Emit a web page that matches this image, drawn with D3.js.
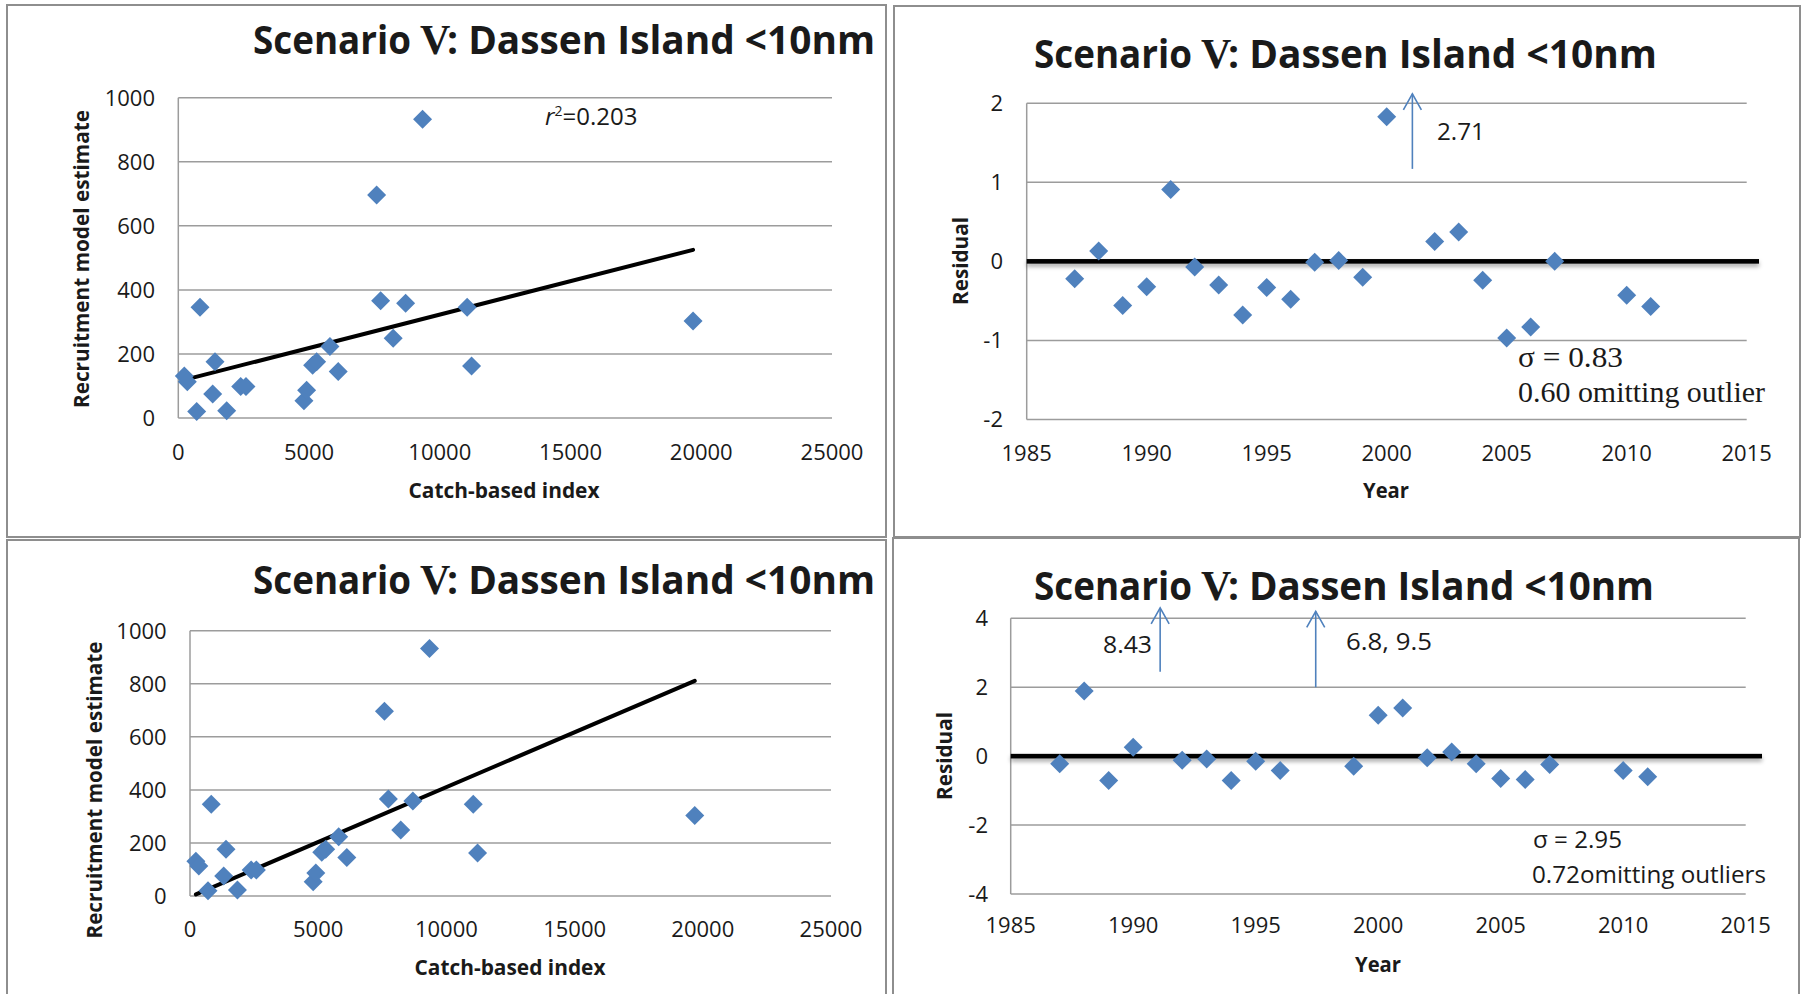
<!DOCTYPE html>
<html>
<head>
<meta charset="utf-8">
<script src="https://cdn.jsdelivr.net/npm/d3@7"></script>
<style>
  body { margin: 0; background: #fff; }
  svg { display: block; }
  text { font-family: "Open Sans", sans-serif; fill: #1a1a1a; }
</style>
</head>
<body>
<div id="chart"></div>
<script>
// Values (scatter and residuals)
const catchIndex = [230, 344, 703, 830, 1403, 1315, 1850, 2385, 2588, 4805, 4908, 5138, 5291, 5799, 6116, 7737, 8219, 8693, 11047, 11216, 7584, 9342, 19686];
const recruitEst = [131, 113, 20, 346, 176, 75, 23, 98, 98, 54, 87, 165, 176, 223, 145, 366, 249, 358, 346, 162, 696, 933, 303];

// fitted lines (end points)
const trendTop = [[230, 119], [19686, 525]];
const trendBottom = [[230, 6], [19686, 811]];

const residYearsA = [1987, 1988, 1989, 1990, 1991, 1992, 1993, 1994, 1995, 1996, 1997, 1998, 1999, 2000, 2002, 2003, 2004, 2005, 2006, 2007, 2010, 2011];
const residA = [-0.22, 0.13, -0.56, -0.32, 0.91, -0.07, -0.30, -0.68, -0.33, -0.48, -0.01, 0.01, -0.20, 1.83, 0.25, 0.37, -0.24, -0.97, -0.83, 0.0, -0.43, -0.57];

const residYearsB = [1987, 1988, 1989, 1990, 1992, 1993, 1994, 1995, 1996, 1999, 2000, 2001, 2002, 2003, 2004, 2005, 2006, 2007, 2010, 2011];
const residB = [-0.22, 1.89, -0.71, 0.26, -0.12, -0.08, -0.71, -0.15, -0.42, -0.29, 1.19, 1.40, -0.05, 0.12, -0.22, -0.65, -0.68, -0.24, -0.42, -0.60];

const catchTicks = [0, 5000, 10000, 15000, 20000, 25000];
const recruitTicks = [0, 200, 400, 600, 800, 1000];
const yearTicks = [1985, 1990, 1995, 2000, 2005, 2010, 2015];
const residTicksA = [-2, -1, 0, 1, 2];
const residTicksB = [-4, -2, 0, 2, 4];

const titleText = ["Scenario ", "V", ": Dassen Island <10nm"];

const W = 1801, H = 994;
const blue = "#4f81bd";
const gridColor = "#9c9c9c";

const svg = d3.select("#chart").append("svg")
    .attr("width", W)
    .attr("height", H);

// shadow under the zero lines
const defs = svg.append("defs");
defs.append("filter")
    .attr("id", "shadow")
    .attr("filterUnits", "userSpaceOnUse")
    .attr("x", 0).attr("y", 0)
    .attr("width", W).attr("height", H)
    .append("feDropShadow")
    .attr("dx", 0).attr("dy", 3)
    .attr("stdDeviation", 2)
    .attr("flood-color", "#000")
    .attr("flood-opacity", 0.35);

// panel frames
[[7, 5, 879, 532], [894, 6, 906, 531], [7, 540, 879, 460], [893, 538, 906, 462]].forEach(b => {
    svg.append("rect")
        .attr("x", b[0]).attr("y", b[1])
        .attr("width", b[2]).attr("height", b[3])
        .attr("fill", "none")
        .attr("stroke", "#8e8e8e")
        .attr("stroke-width", 2);
});

const diamond = "M0,-9.5L9.5,0L0,9.5L-9.5,0Z";

function drawTitle(x0, x1, baseline) {
    // three pieces so the serif "V" sits in its own run
    const g = svg.append("g")
        .style("font-size", "39px")
        .style("font-weight", "bold");
    const a = g.append("text").attr("x", x0).attr("y", baseline)
        .attr("textLength", 158).attr("lengthAdjust", "spacingAndGlyphs")
        .text(titleText[0].trim());
    g.append("text").attr("x", x0 + 167).attr("y", baseline)
        .style("font-family", "'Liberation Serif', serif")
        .style("font-size", "42px")
        .text(titleText[1]);
    g.append("text").attr("x", x0 + 194).attr("y", baseline)
        .attr("textLength", x1 - x0 - 194).attr("lengthAdjust", "spacingAndGlyphs")
        .text(titleText[2]);
}

function drawPanel(p) {
    const g = svg.append("g");

    // gridlines
    g.selectAll("line.grid")
        .data(p.yTicks)
        .enter()
        .append("line")
        .attr("class", "grid")
        .attr("x1", p.x.range()[0])
        .attr("x2", p.x.range()[1])
        .attr("y1", d => p.y(d))
        .attr("y2", d => p.y(d))
        .attr("stroke", gridColor)
        .attr("stroke-width", 1.5);

    // left axis line
    g.append("line")
        .attr("x1", p.x.range()[0]).attr("x2", p.x.range()[0])
        .attr("y1", p.y(p.yTicks[0])).attr("y2", p.y(p.yTicks[p.yTicks.length - 1]))
        .attr("stroke", gridColor)
        .attr("stroke-width", 1.5);

    // y tick labels
    g.selectAll("text.ytick")
        .data(p.yTicks)
        .enter()
        .append("text")
        .attr("class", "ytick")
        .attr("x", p.yLabelX)
        .attr("y", d => p.y(d) + 8)
        .attr("text-anchor", "end")
        .style("font-size", "22px")
        .text(d => d);

    // x tick labels
    g.selectAll("text.xtick")
        .data(p.xTicks)
        .enter()
        .append("text")
        .attr("class", "xtick")
        .attr("x", d => p.x(d))
        .attr("y", p.xLabelY)
        .attr("text-anchor", "middle")
        .style("font-size", "22px")
        .text(d => d);

    // axis titles
    g.append("text")
        .attr("transform", `translate(${p.yTitle[0]},${p.yTitle[1]}) rotate(-90)`)
        .attr("text-anchor", "middle")
        .attr("textLength", p.yTitle[2])
        .attr("lengthAdjust", "spacingAndGlyphs")
        .attr("dy", "0.35em")
        .style("font-size", "21px")
        .style("font-weight", "bold")
        .text(p.yTitleText);

    g.append("text")
        .attr("x", p.xTitle[0])
        .attr("y", p.xTitle[1])
        .attr("text-anchor", "middle")
        .attr("textLength", p.xTitle[2])
        .attr("lengthAdjust", "spacingAndGlyphs")
        .style("font-size", "22px")
        .style("font-weight", "bold")
        .text(p.xTitleText);

    // zero line (residual panels)
    if (p.zeroLine) {
        g.append("rect")
            .attr("x", p.x.range()[0])
            .attr("y", p.y(0) - 2.3)
            .attr("width", p.zeroLine - p.x.range()[0])
            .attr("height", 4.6)
            .attr("fill", "#000")
            .attr("filter", "url(#shadow)");
    }

    // trend line
    if (p.trend) {
        g.append("path")
            .datum(p.trend)
            .attr("d", d3.line().x(d => p.x(d[0])).y(d => p.y(d[1])))
            .attr("stroke", "#000")
            .attr("stroke-width", 4)
            .attr("stroke-linecap", "round")
            .attr("fill", "none");
    }

    // points
    g.selectAll("path.pt")
        .data(p.xs.map((v, i) => [v, p.ys[i]]))
        .enter()
        .append("path")
        .attr("class", "pt")
        .attr("d", diamond)
        .attr("transform", d => `translate(${p.x(d[0])},${p.y(d[1])})`)
        .attr("fill", blue);

    drawTitle(p.title[0], p.title[1], p.title[2]);
    return g;
}

function arrow(x, yBottom, yTop) {
    svg.append("line")
        .attr("x1", x).attr("x2", x)
        .attr("y1", yBottom).attr("y2", yTop)
        .attr("stroke", blue)
        .attr("stroke-width", 1.6);
    svg.append("path")
        .attr("d", `M${x - 9},${yTop + 16}L${x},${yTop}L${x + 9},${yTop + 16}`)
        .attr("stroke", blue)
        .attr("stroke-width", 1.6)
        .attr("fill", "none");
}

function note(x, y, txt, size, len, family) {
    const t = svg.append("text")
        .attr("x", x)
        .attr("y", y)
        .style("font-size", size + "px")
        .text(txt);
    if (len) t.attr("textLength", len).attr("lengthAdjust", "spacingAndGlyphs");
    if (family) t.style("font-family", family);
    return t;
}

// ---- Panel 1: scatter, top left
const x1 = d3.scaleLinear().domain([0, 25000]).range([178.3, 832]);
const y1 = d3.scaleLinear().domain([0, 1000]).range([418, 97.7]);
drawPanel({
    x: x1, y: y1, xTicks: catchTicks, yTicks: recruitTicks,
    xs: catchIndex, ys: recruitEst, trend: trendTop,
    yLabelX: 155, xLabelY: 460,
    yTitle: [82, 259, 298], yTitleText: "Recruitment model estimate",
    xTitle: [504, 498, 191], xTitleText: "Catch-based index",
    title: [253, 875, 54]
});
const r2 = svg.append("text")
    .attr("x", 545)
    .attr("y", 125)
    .style("font-size", "24px");
r2.append("tspan").style("font-style", "italic").text("r");
r2.append("tspan").attr("dy", -9).style("font-size", "14px").text("2");
r2.append("tspan").attr("dy", 9).text("=0.203");

// ---- Panel 2: residuals, top right
const x2 = d3.scaleLinear().domain([1985, 2015]).range([1026.7, 1746.7]);
const y2 = d3.scaleLinear().domain([-2, 2]).range([419.4, 103.3]);
drawPanel({
    x: x2, y: y2, xTicks: yearTicks, yTicks: residTicksA,
    xs: residYearsA, ys: residA, zeroLine: 1759,
    yLabelX: 1003, xLabelY: 461,
    yTitle: [961, 261, 88], yTitleText: "Residual",
    xTitle: [1386, 498, 46], xTitleText: "Year",
    title: [1034, 1657, 68]
});
arrow(x2(2001.07), y2(1.17), y2(2.12));
note(1437, 140, "2.71", 23, 48);
note(1518, 367, "σ = 0.83", 29, 105, "'Liberation Serif', serif");
note(1518, 402, "0.60  omitting outlier", 29, 247, "'Liberation Serif', serif");

// ---- Panel 3: scatter, bottom left
const x3 = d3.scaleLinear().domain([0, 25000]).range([190, 831]);
const y3 = d3.scaleLinear().domain([0, 1000]).range([896, 630.7]);
drawPanel({
    x: x3, y: y3, xTicks: catchTicks, yTicks: recruitTicks,
    xs: catchIndex, ys: recruitEst, trend: trendBottom,
    yLabelX: 166.7, xLabelY: 937,
    yTitle: [95, 790, 297], yTitleText: "Recruitment model estimate",
    xTitle: [510, 975, 191], xTitleText: "Catch-based index",
    title: [253, 875, 594]
});

// ---- Panel 4: residuals, bottom right
const x4 = d3.scaleLinear().domain([1985, 2015]).range([1010.7, 1745.7]);
const y4 = d3.scaleLinear().domain([-4, 4]).range([894, 618.3]);
drawPanel({
    x: x4, y: y4, xTicks: yearTicks, yTicks: residTicksB,
    xs: residYearsB, ys: residB, zeroLine: 1762,
    yLabelX: 988, xLabelY: 933,
    yTitle: [945, 756, 88], yTitleText: "Residual",
    xTitle: [1378, 972, 46], xTitleText: "Year",
    title: [1034, 1654, 600]
});
arrow(x4(1991.1), y4(2.45), y4(4.3));
arrow(x4(1997.45), y4(2.0), y4(4.2));
note(1103, 653, "8.43", 23, 49);
note(1346, 650, "6.8,  9.5", 23, 86);
note(1533, 848, "σ = 2.95", 23, 89);
note(1532, 883, "0.72omitting outliers", 23, 234);
</script>
</body>
</html>
